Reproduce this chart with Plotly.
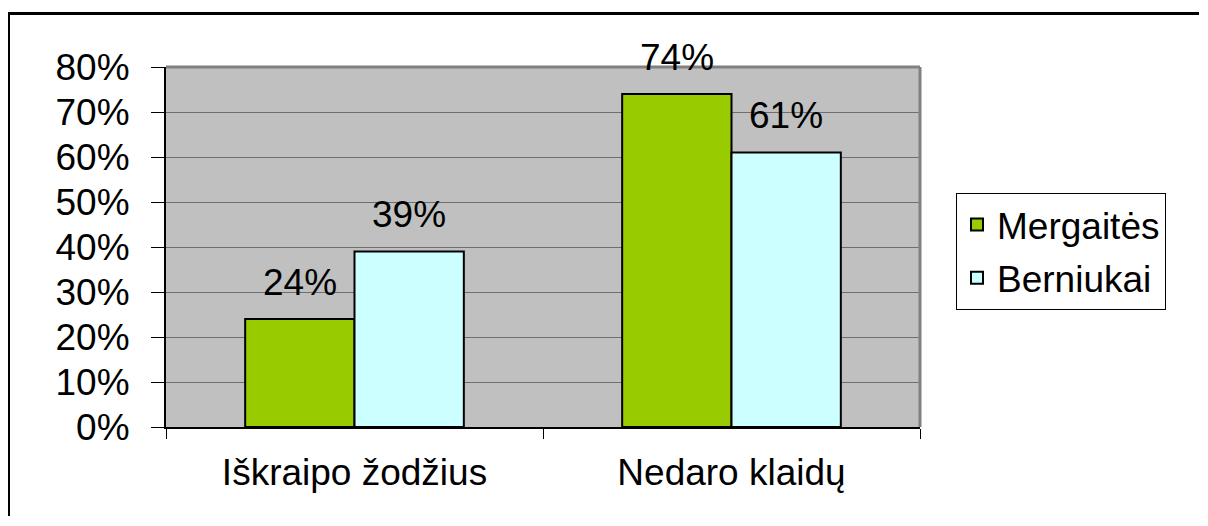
import plotly.graph_objects as go

categories = ["Iškraipo žodžius", "Nedaro klaidų"]
series_names = ["Mergaitės", "Berniukai"]
mergaites = [24, 74]
berniukai = [39, 61]
y_ticks = [0, 10, 20, 30, 40, 50, 60, 70, 80]
y_tick_labels = [f"{v}%" for v in y_ticks]

colors = ["#99CC00", "#CCFFFF"]
FONT = "Liberation Sans, Arial, sans-serif"

# page body has an 8px margin on every side; keep the figure inside the window
OFF = 8
W, H = 1208 - 2 * OFF, 526 - 2 * OFF - 2
L, T = 166 - OFF, 67 - OFF
R = W - (920 - OFF)
B = H - (427 - OFF)
pw, ph = W - L - R, H - T - B

def px_x(p):  # reference pixel -> paper
    return (p - OFF - L) / pw

def px_y(p):
    return (H - B - (p - OFF)) / ph

fig = go.Figure()
for name, vals, col in zip(series_names, [mergaites, berniukai], colors):
    fig.add_trace(go.Bar(
        x=categories, y=vals, name=name, legendgroup=name,
        marker=dict(color=col, line=dict(color="black", width=2)),
        hoverinfo="skip",
    ))

# data labels above bars
bar_w_px = pw / len(categories) * (1 - 0.42) / 2
for i, vals in enumerate([mergaites, berniukai]):
    offs = (i - 0.5) * bar_w_px
    for c, v in zip(categories, vals):
        fig.add_annotation(x=c, y=v, xref="x", yref="y", text=f"{v}%",
                           showarrow=False, xshift=offs, yshift=37,
                           font=dict(family=FONT, size=37, color="black"))

shapes = [
    dict(type="line", xref="paper", yref="paper", x0=0, x1=1, y0=1, y1=1,
         line=dict(color="#808080", width=3)),
    dict(type="line", xref="paper", yref="paper", x0=1, x1=1, y0=0, y1=1,
         line=dict(color="#808080", width=3)),
    # outer chart border (top and left)
    dict(type="line", xref="paper", yref="paper", x0=px_x(7), x1=px_x(1199),
         y0=px_y(13.5), y1=px_y(13.5), line=dict(color="black", width=3)),
    dict(type="line", xref="paper", yref="paper", x0=px_x(8.5), x1=px_x(8.5),
         y0=px_y(12), y1=px_y(530), line=dict(color="black", width=3)),
]

fig.update_layout(
    width=W, height=H,
    margin=dict(l=L, r=R, t=T, b=B, pad=0),
    paper_bgcolor="white", plot_bgcolor="#C0C0C0",
    barmode="group", bargap=0.42, bargroupgap=0,
    font=dict(family=FONT, size=36, color="black"),
    showlegend=True,
    legend=dict(x=px_x(956), y=px_y(193), xanchor="left", yanchor="top",
                bgcolor="white", bordercolor="black", borderwidth=1,
                font=dict(family=FONT, size=37, color="black"),
                tracegroupgap=2, itemclick=False),
    shapes=shapes,
    xaxis=dict(type="category", showgrid=False, showline=True, linecolor="black",
               linewidth=2, ticks="outside", tickson="boundaries", ticklen=10,
               tickcolor="black", tickwidth=1, ticklabelstandoff=12,
               tickfont=dict(family=FONT, size=37, color="black"), zeroline=False),
    yaxis=dict(range=[0, 80], tickvals=y_ticks, ticktext=y_tick_labels,
               showgrid=True, gridcolor="#6E6E6E", gridwidth=1,
               showline=True, linecolor="black", linewidth=2,
               ticks="outside", ticklen=13, tickcolor="black", tickwidth=1,
               ticklabelstandoff=14, zeroline=False,
               tickfont=dict(family=FONT, size=37, color="black")),
)

fig.write_html("out.html", config={"displayModeBar": False})
